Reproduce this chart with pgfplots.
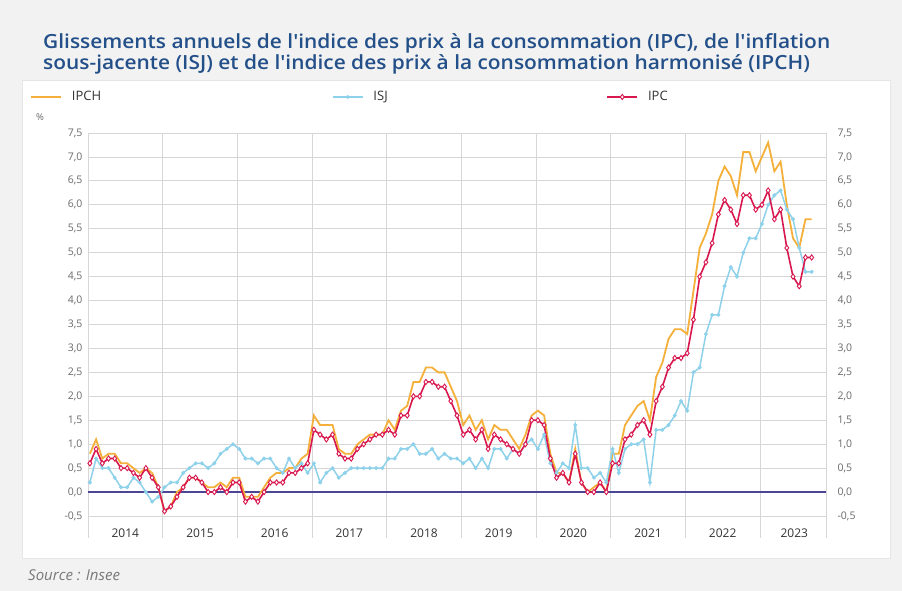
\documentclass[border=0pt]{standalone}
\usepackage{fontspec}
\setmainfont{Open Sans}
\newfontfamily\titlefont{Open Sans Semibold}
\usepackage{graphicx}
\usepackage{pgfplots}
\usepackage{pgfplotstable}
\pgfplotsset{compat=1.18}

\definecolor{bgcol}{HTML}{F2F2F2}
\definecolor{titlecol}{HTML}{24508A}
\definecolor{ipch}{HTML}{F4B03A}
\definecolor{isj}{HTML}{8ED1EA}
\definecolor{ipc}{HTML}{D9174F}
\definecolor{gridcol}{HTML}{D6D6D6}
\definecolor{zerocol}{HTML}{4B4594}
\definecolor{labcol}{HTML}{6A6A6A}
\definecolor{txtcol}{HTML}{333333}

% glissements annuels, mois 0 = janvier 2014
\pgfplotstableread{
m ipch isj ipc
0 0.8 0.2 0.6
1 1.1 0.7 0.9
2 0.7 0.5 0.6
3 0.8 0.5 0.7
4 0.8 0.3 0.7
5 0.6 0.1 0.5
6 0.6 0.1 0.5
7 0.5 0.3 0.4
8 0.4 0.2 0.3
9 0.5 0.0 0.5
10 0.4 -0.2 0.3
11 0.1 -0.1 0.1
12 -0.4 0.1 -0.4
13 -0.3 0.2 -0.3
14 0.0 0.2 -0.1
15 0.1 0.4 0.1
16 0.3 0.5 0.3
17 0.3 0.6 0.3
18 0.2 0.6 0.2
19 0.1 0.5 0.0
20 0.1 0.6 0.0
21 0.2 0.8 0.1
22 0.1 0.9 0.0
23 0.3 1.0 0.2
24 0.3 0.9 0.2
25 -0.1 0.7 -0.2
26 -0.1 0.7 -0.1
27 -0.1 0.6 -0.2
28 0.1 0.7 0.0
29 0.3 0.7 0.2
30 0.4 0.5 0.2
31 0.4 0.4 0.2
32 0.5 0.7 0.4
33 0.5 0.5 0.4
34 0.7 0.6 0.5
35 0.8 0.4 0.6
36 1.6 0.6 1.3
37 1.4 0.2 1.2
38 1.4 0.4 1.1
39 1.4 0.5 1.2
40 0.9 0.3 0.8
41 0.8 0.4 0.7
42 0.8 0.5 0.7
43 1.0 0.5 0.9
44 1.1 0.5 1.0
45 1.2 0.5 1.1
46 1.2 0.5 1.2
47 1.2 0.5 1.2
48 1.5 0.7 1.3
49 1.3 0.7 1.2
50 1.7 0.9 1.6
51 1.8 0.9 1.6
52 2.3 1.0 2.0
53 2.3 0.8 2.0
54 2.6 0.8 2.3
55 2.6 0.9 2.3
56 2.5 0.7 2.2
57 2.5 0.8 2.2
58 2.2 0.7 1.9
59 1.9 0.7 1.6
60 1.4 0.6 1.2
61 1.6 0.7 1.3
62 1.3 0.5 1.1
63 1.5 0.7 1.3
64 1.1 0.5 0.9
65 1.4 0.9 1.2
66 1.3 0.9 1.1
67 1.3 0.7 1.0
68 1.1 0.9 0.9
69 0.9 0.8 0.8
70 1.2 1.0 1.0
71 1.6 1.1 1.5
72 1.7 0.9 1.5
73 1.6 1.2 1.4
74 0.8 0.6 0.7
75 0.4 0.4 0.3
76 0.4 0.6 0.4
77 0.2 0.5 0.2
78 0.9 1.4 0.8
79 0.2 0.5 0.2
80 0.0 0.5 0.0
81 0.1 0.3 0.0
82 0.2 0.4 0.2
83 0.0 0.2 0.0
84 0.8 0.9 0.6
85 0.8 0.4 0.6
86 1.4 0.9 1.1
87 1.6 1.0 1.2
88 1.8 1.0 1.4
89 1.9 1.1 1.5
90 1.5 0.2 1.2
91 2.4 1.3 1.9
92 2.7 1.3 2.2
93 3.2 1.4 2.6
94 3.4 1.6 2.8
95 3.4 1.9 2.8
96 3.3 1.7 2.9
97 4.2 2.5 3.6
98 5.1 2.6 4.5
99 5.4 3.3 4.8
100 5.8 3.7 5.2
101 6.5 3.7 5.8
102 6.8 4.3 6.1
103 6.6 4.7 5.9
104 6.2 4.5 5.6
105 7.1 5.0 6.2
106 7.1 5.3 6.2
107 6.7 5.3 5.9
108 7.0 5.6 6.0
109 7.3 6.0 6.3
110 6.7 6.2 5.7
111 6.9 6.3 5.9
112 6.0 5.9 5.1
113 5.3 5.7 4.5
114 5.1 5.1 4.3
115 5.7 4.6 4.9
116 5.7 4.6 4.9
}\datatable

\pgfplotsset{
  commonax/.style={
    at={(88pt,75pt)}, anchor=south west,
    scale only axis, width=738pt, height=383pt,
    xmin=0, xmax=118.6, ymin=-0.5, ymax=7.5,
    ytick={-0.5,0,...,7.5},
    ytick style={draw=none},
    /pgf/number format/.cd, use comma, fixed, fixed zerofill, precision=1, assume math mode=true,
    /pgfplots/.cd,
    yticklabel style={font=\fontsize{10.5}{12}\selectfont, text=labcol},
  },
}

\begin{document}
\begin{tikzpicture}
\fill[bgcol] (0,0) rectangle (902pt,591pt);
\fill[white, draw=gridcol!60] (22pt,33pt) rectangle (890pt,511pt);
\node[anchor=north west, inner sep=0pt, text=titlecol] at (43pt,557.5pt)
  {\resizebox{787pt}{\height}{\titlefont\fontsize{19.5}{18.5}\selectfont
   \begin{tabular}{@{}l@{}}
   Glissements annuels de l'indice des prix à la consommation (IPC), de l'inflation\\
   sous-jacente (ISJ) et de l'indice des prix à la consommation harmonisé (IPCH)
   \end{tabular}}};
\node[anchor=west, inner sep=0pt, text=labcol, font=\fontsize{9.5}{11}\selectfont] at (36pt,474pt) {\%};
\node[anchor=west, inner sep=0pt, text=labcol!90, font=\fontsize{15}{17}\selectfont\itshape] at (28pt,16pt) {Source : Insee};

\begin{axis}[commonax,
  axis line style={draw=gridcol},
  grid style={draw=gridcol, line width=0.8pt},
  xmajorgrids, ymajorgrids,
  xtick={0,12,...,108,118.6},
  xticklabels={},
  xtick pos=left,
  major tick length=-22pt,
  xtick style={draw=gridcol, line width=0.8pt},
  extra x ticks={6,18,...,102,113.5},
  extra x tick labels={2014,2015,2016,2017,2018,2019,2020,2021,2022,2023},
  extra x tick style={major tick length=0pt, grid=none},
  xticklabel style={font=\fontsize{12}{14}\selectfont, text=txtcol, yshift=-9pt},
  ytick pos=left,
  yticklabel style={xshift=-2pt},
  legend columns=3,
  legend style={at={(-0.0786,1.094)}, anchor=west, draw=none, fill=none,
    inner sep=0pt, nodes={inner sep=0pt}, font=\fontsize{13}{15}\selectfont, text=txtcol,
    /tikz/every odd column/.append style={column sep=10pt}},
  legend image code/.code={\draw[mark repeat=2, mark phase=2, #1] plot coordinates {(0pt,0pt) (15pt,0pt) (30pt,0pt)};},
]
\draw[zerocol, line width=1.2pt] (axis cs:0,0) -- (axis cs:118.6,0);
\addplot[ipch, line width=1.8pt, no markers] table[x expr=\thisrow{m}+0.3, y=ipch] {\datatable};
\addlegendentry{\makebox[260pt][l]{IPCH}}
\addplot[isj, line width=1.5pt, mark=*, mark size=1.1pt] table[x expr=\thisrow{m}+0.3, y=isj] {\datatable};
\addlegendentry{\makebox[233pt][l]{ISJ}}
\addplot[ipc, line width=1.6pt, mark=diamond*, mark size=2.6pt,
  mark options={fill=white, draw=ipc, line width=0.9pt}] table[x expr=\thisrow{m}+0.3, y=ipc] {\datatable};
\addlegendentry{IPC}
\end{axis}

\begin{axis}[commonax,
  axis x line=none, axis y line*=right,
  y axis line style={draw=none},
  yticklabel style={xshift=8pt},
]
\addplot[draw=none] coordinates {(0,0)};
\end{axis}
\end{tikzpicture}
\end{document}
